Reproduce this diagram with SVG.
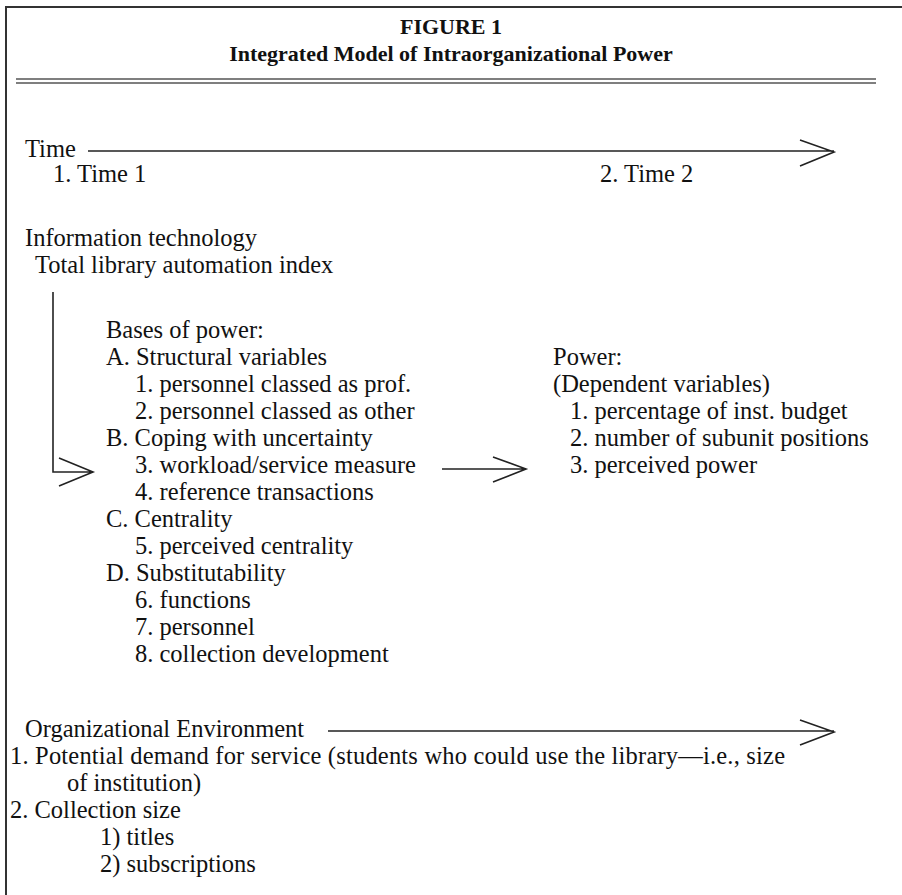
<svg xmlns="http://www.w3.org/2000/svg" width="902" height="895" viewBox="0 0 902 895">
<style>
text{font-family:"Liberation Serif","Times New Roman",serif;font-size:24.5px;fill:#111}
.title{font-weight:bold;font-size:22px;text-anchor:middle}
.frame{stroke:#333;stroke-width:2;fill:none}
.rule{stroke:#555;stroke-width:1.5;fill:none}
.conn{stroke:#222;stroke-width:1.6;fill:none}
</style>
<rect width="902" height="895" fill="#fff"/>
<g id="frame">
<path class="frame" d="M6 895V7H902"/>
<line class="rule" x1="16" y1="79" x2="876" y2="79"/>
<line class="rule" x1="16" y1="83" x2="876" y2="83"/>
</g>
<g id="title">
<text class="title" x="451" y="34">FIGURE 1</text>
<text class="title" x="451" y="61">Integrated Model of Intraorganizational Power</text>
</g>
<g id="time">
<text x="25" y="157">Time</text>
<text x="53" y="182">1. Time 1</text>
<text x="600" y="182">2. Time 2</text>
</g>
<g id="infotech">
<text x="25" y="246">Information technology</text>
<text x="35" y="273">Total library automation index</text>
</g>
<g id="bases">
<text x="106" y="338">Bases of power:</text>
<text x="106" y="365">A. Structural variables</text>
<text x="135" y="392">1. personnel classed as prof.</text>
<text x="135" y="419">2. personnel classed as other</text>
<text x="106" y="446">B. Coping with uncertainty</text>
<text x="135" y="473">3. workload/service measure</text>
<text x="135" y="500">4. reference transactions</text>
<text x="106" y="527">C. Centrality</text>
<text x="135" y="554">5. perceived centrality</text>
<text x="106" y="581">D. Substitutability</text>
<text x="135" y="608">6. functions</text>
<text x="135" y="635">7. personnel</text>
<text x="135" y="662">8. collection development</text>
</g>
<g id="power">
<text x="553" y="365">Power:</text>
<text x="553" y="392">(Dependent variables)</text>
<text x="570" y="419">1. percentage of inst. budget</text>
<text x="570" y="446">2. number of subunit positions</text>
<text x="570" y="473">3. perceived power</text>
</g>
<g id="environment">
<text x="25" y="737">Organizational Environment</text>
<text x="10" y="764" textLength="775">1. Potential demand for service (students who could use the library—i.e., size</text>
<text x="67" y="791">of institution)</text>
<text x="10" y="818">2. Collection size</text>
<text x="100" y="845">1) titles</text>
<text x="100" y="872">2) subscriptions</text>
</g>
<g id="connectors">
<path class="conn" d="M88 151H834M800 140L834 152L800 166"/>
<path class="conn" d="M53 292V472H93M59 458L93 472L59 486"/>
<path class="conn" d="M442 469H526M493 457L526 469L493 482"/>
<path class="conn" d="M328 731H834M800 720L834 732L800 745"/>
</g>
</svg>
